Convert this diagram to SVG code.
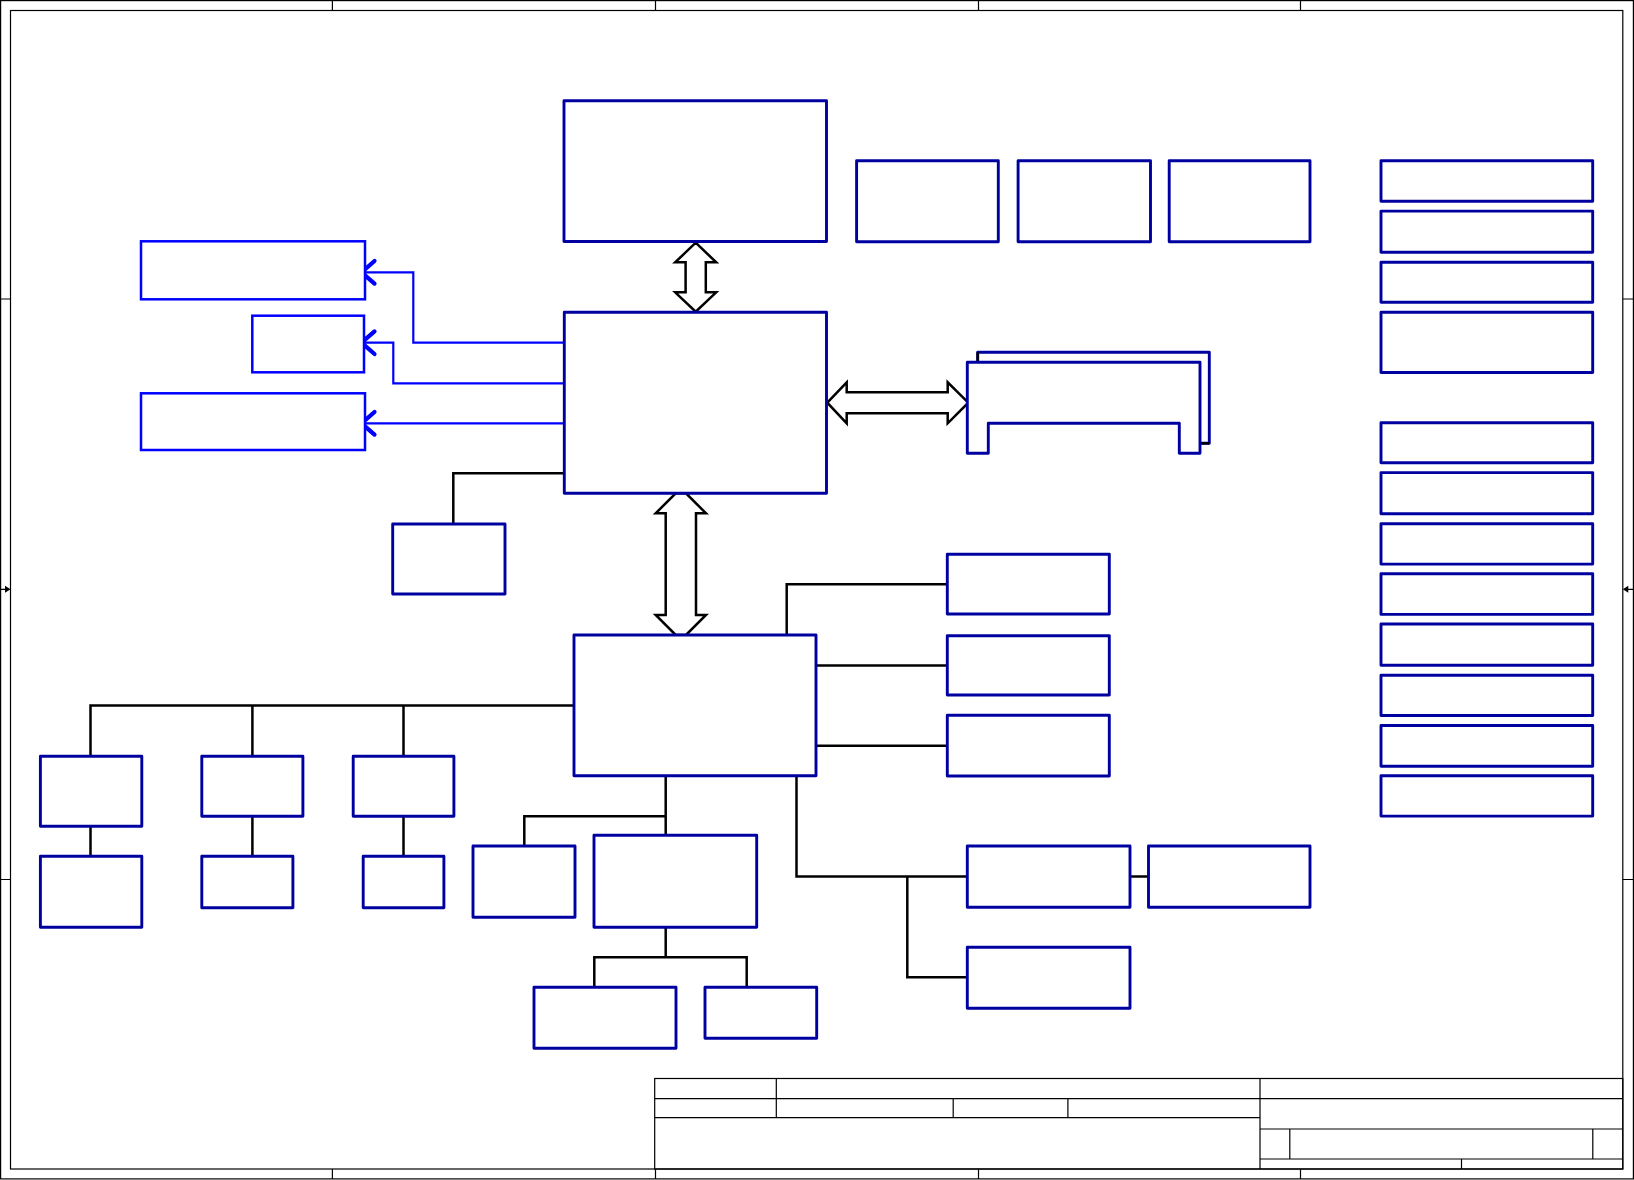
<svg xmlns="http://www.w3.org/2000/svg" width="1634" height="1180" viewBox="0 0 1634 1180">
<style>
.frame{fill:none;stroke:#000;stroke-width:1.2}
.box{fill:#fff;stroke:#0000A0;stroke-width:2.9;stroke-linejoin:round}
.bbox{fill:#fff;stroke:#0000FF;stroke-width:2.5}
.wire{fill:none;stroke:#000;stroke-width:2.5;stroke-linejoin:miter}
.bwire{fill:none;stroke:#0000FF;stroke-width:2.2}
.chev{fill:none;stroke:#0000FF;stroke-width:4.2;stroke-linecap:round;stroke-linejoin:round}
.bus{fill:#fff;stroke:#000;stroke-width:2.5;stroke-linejoin:miter}
</style>
<rect width="1634" height="1180" fill="#fff"/>
<g id="frame">
<rect class="frame" x="0.6" y="0.6" width="1632.8" height="1178.3"/>
<rect class="frame" x="10.5" y="10.5" width="1612.3" height="1158.5"/>
<path class="frame" d="M332.4 0V10.5M655.5 0V10.5M978.5 0V10.5M1300.5 0V10.5M332.4 1169V1179M655.5 1169V1179M978.5 1169V1179M1300.5 1169V1179M0 299H10.5M0 879.5H10.5M1622.8 299H1634M1622.8 879.5H1634M0 589.3H8M1634 589.3H1626"/>
<path d="M10.5 589.3L5 585.8V592.8Z M1622.8 589.3L1628.3 585.8V592.8Z" fill="#000"/>
</g>
<g id="title-block" class="frame">
<rect class="frame" x="654.7" y="1078.5" width="968.1" height="90.5"/>
<path class="frame" d="M654.7 1098.7H1622.8M654.7 1117.7H1260M776.3 1078.5V1117.7M953.2 1098.7V1117.7M1067.9 1098.7V1117.7M1260 1078.5V1169M1260 1129H1622.8M1260 1159H1622.8M1289.8 1129V1159M1592.8 1129V1159M1461.5 1159V1169"/>
</g>
<g id="connectors">
<path class="bwire" d="M564 342.7H413.3V272.3H363M564 383.3H393.3V342.7H363M564 423.3H363"/>
<path class="chev" d="M374.5 261L361.5 272.3L374.5 283.6M374.5 331.4L361.5 342.7L374.5 354M374.5 412L361.5 423.3L374.5 434.6"/>
<path class="wire" d="M564 473.3H453.3V524"/>
<path class="bus" d="M695.7 242.7L716.2 262.3H705.8V292.3H716.2L695.7 311.7L675.2 292.3H685.6V262.3H675.2Z"/>
<path class="bus" d="M827.3 402.7L846.7 382.3V392.3H947.7V382.3L968.3 402.7L947.7 423.3V413.3H846.7V423.3Z"/>
<path class="bus" d="M675.7 493.3H686L706 513.3H696V615H706L686 635H675.7L655.7 615H665.7V513.3H655.7Z"/>
<path class="wire" d="M786.7 635V584.3H947.3M816 665.5H947.3M816 745.7H947.3"/>
<path class="wire" d="M796.5 776V876.5H967.3M907.3 876.5V977.3H967.3M1130 876.5H1148.5"/>
<path class="wire" d="M665.7 776V835.3M524.3 846V816.3H665.7M665.7 927.3V957.3M594.3 987.3V957.3H746.7V987.3"/>
<path class="wire" d="M574 705.5H90.5V756.3M252.4 705.5V756.3M403.5 705.5V756.3M90.5 826.3V856.3M252.4 816.3V856.3M403.5 816.3V856.3"/>
</g>
<g id="cpu"><rect class="box" x="564" y="100.7" width="262.5" height="140.8"/></g>
<g id="top-box-1"><rect class="box" x="856.6" y="160.7" width="141.7" height="81.1"/></g>
<g id="top-box-2"><rect class="box" x="1018.1" y="160.7" width="132.4" height="81.1"/></g>
<g id="top-box-3"><rect class="box" x="1169.2" y="160.7" width="140.8" height="81.1"/></g>
<g id="north-bridge"><rect class="box" x="564.3" y="312.3" width="262.2" height="181"/></g>
<g id="left-blue-1"><rect class="bbox" x="141" y="241.3" width="224" height="58"/></g>
<g id="left-blue-2"><rect class="bbox" x="252.3" y="315.7" width="111.7" height="56.6"/></g>
<g id="left-blue-3"><rect class="bbox" x="141" y="393.3" width="224" height="56.7"/></g>
<g id="nb-side-box"><rect class="box" x="392.7" y="524" width="112.3" height="70"/></g>
<g id="card">
<path class="box" d="M977.7 362.3V352.3H1209.3V443.3H1200" style="fill:none"/>
<path d="M977.7 352.3V362.3M1200 443.3H1209.3" fill="none" stroke="#000" stroke-width="2.5"/>
<path class="box" d="M967.3 362.3H1200V453.3H1179.3V423.3H988.3V453.3H967.3Z"/>
</g>
<g id="south-bridge"><rect class="box" x="574" y="635" width="242" height="140.7"/></g>
<g id="sb-right-1"><rect class="box" x="947.3" y="554.3" width="162" height="59.7"/></g>
<g id="sb-right-2"><rect class="box" x="947.3" y="635.7" width="162" height="59.3"/></g>
<g id="sb-right-3"><rect class="box" x="947.3" y="715.3" width="162" height="60.7"/></g>
<g id="sb-low-1"><rect class="box" x="967.3" y="846" width="162.7" height="61.3"/></g>
<g id="sb-low-2"><rect class="box" x="1148.5" y="846" width="161.5" height="61.3"/></g>
<g id="sb-low-3"><rect class="box" x="967.3" y="947.3" width="162.7" height="61"/></g>
<g id="left-a1"><rect class="box" x="40.4" y="756.3" width="101.4" height="70"/></g>
<g id="left-b1"><rect class="box" x="201.8" y="756.3" width="101.1" height="60"/></g>
<g id="left-c1"><rect class="box" x="353.2" y="756.3" width="100.7" height="60"/></g>
<g id="left-a2"><rect class="box" x="40.4" y="856.3" width="101.4" height="71"/></g>
<g id="left-b2"><rect class="box" x="201.8" y="856.3" width="91.1" height="51.4"/></g>
<g id="left-c2"><rect class="box" x="363.2" y="856.3" width="80.7" height="51.4"/></g>
<g id="bottom-d"><rect class="box" x="473" y="846" width="102" height="71.3"/></g>
<g id="bottom-e"><rect class="box" x="594" y="835.3" width="162.7" height="92"/></g>
<g id="bottom-f"><rect class="box" x="534" y="987.3" width="142" height="61"/></g>
<g id="bottom-g"><rect class="box" x="705" y="987.3" width="111.7" height="51"/></g>
<g id="right-col">
<rect class="box" x="1381" y="160.8" width="211.7" height="40.4"/>
<rect class="box" x="1381" y="211.1" width="211.7" height="41.2"/>
<rect class="box" x="1381" y="262.3" width="211.7" height="39.9"/>
<rect class="box" x="1381" y="312.2" width="211.7" height="60.3"/>
<rect class="box" x="1381" y="422.8" width="211.7" height="39.9"/>
<rect class="box" x="1381" y="472.6" width="211.7" height="41.2"/>
<rect class="box" x="1381" y="523.8" width="211.7" height="40.3"/>
<rect class="box" x="1381" y="573.7" width="211.7" height="40.7"/>
<rect class="box" x="1381" y="624" width="211.7" height="41.2"/>
<rect class="box" x="1381" y="675.2" width="211.7" height="40.3"/>
<rect class="box" x="1381" y="725.5" width="211.7" height="40.7"/>
<rect class="box" x="1381" y="775.8" width="211.7" height="40.3"/>
</g>
</svg>
